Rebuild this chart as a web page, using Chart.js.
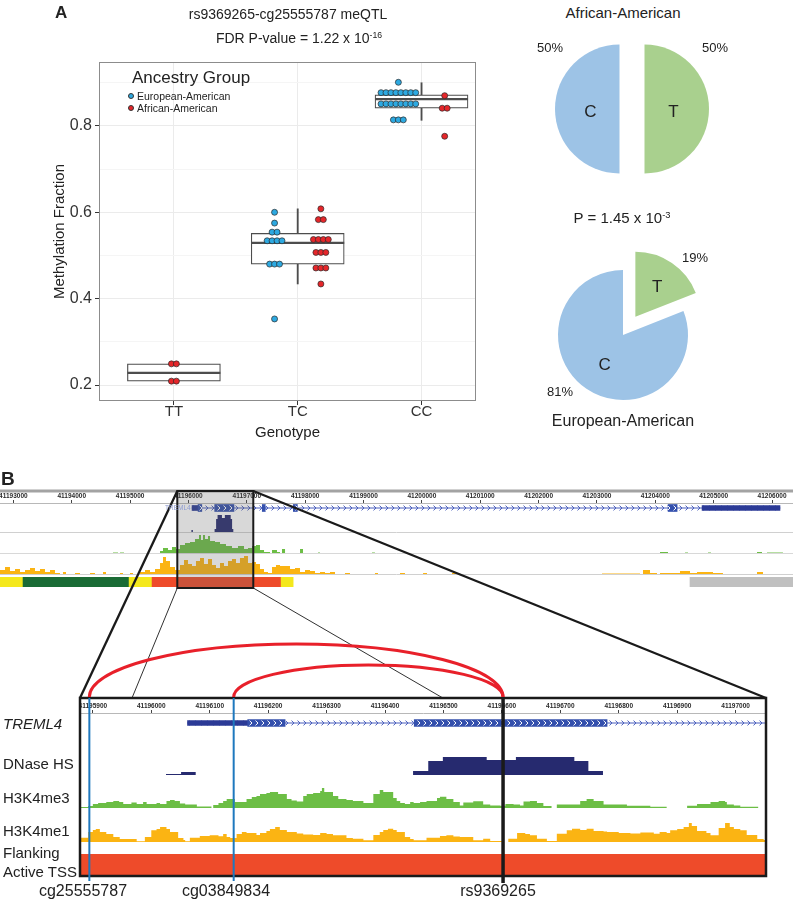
<!DOCTYPE html>
<html>
<head>
<meta charset="utf-8">
<script src="https://cdn.jsdelivr.net/npm/chart.js@4.4.1/dist/chart.umd.min.js"></script>
<style>
html, body { margin: 0; padding: 0; background: #fff; }
#fig { position: relative; width: 793px; height: 900px; overflow: hidden;
       font-family: "Liberation Sans", Arial, sans-serif; color: #222; }
#fig canvas { position: absolute; }
.t { position: absolute; white-space: nowrap; line-height: 1; }
.c { transform: translateX(-50%); }
.dot { position: absolute; width: 6px; height: 6px; border-radius: 50%; border: 0.7px solid #333; box-sizing: border-box; }
sup { font-size: 0.62em; vertical-align: 0.55em; line-height: 0; }
</style>
</head>
<body>
<div id="fig">
  <canvas id="meqtl" width="480" height="445" style="left:0;top:0"></canvas>
  <canvas id="pieAfr" width="200" height="170" style="left:532px;top:24px"></canvas>
  <canvas id="pieEur" width="240" height="240" style="left:503px;top:215px"></canvas>

  <canvas id="topRuler" width="793" height="17" style="left:0;top:488px"></canvas>
  <canvas id="topGene" width="793" height="14" style="left:0;top:501px"></canvas>
  <canvas id="topDnase" width="793" height="20" style="left:0;top:513px"></canvas>
  <canvas id="topK4me3" width="793" height="19" style="left:0;top:535px"></canvas>
  <canvas id="topK4me1" width="793" height="19" style="left:0;top:556px"></canvas>
  <canvas id="topState" width="793" height="10" style="left:0;top:577px"></canvas>

  <canvas id="zoomRuler" width="686" height="16" style="left:80px;top:699px"></canvas>
  <canvas id="zoomGene" width="686" height="14" style="left:80px;top:716px"></canvas>
  <canvas id="zoomDnase" width="686" height="20" style="left:80px;top:755px"></canvas>
  <canvas id="zoomK4me3" width="686" height="21" style="left:80px;top:787px"></canvas>
  <canvas id="zoomK4me1" width="686" height="22" style="left:80px;top:820px"></canvas>
  <canvas id="zoomState" width="686" height="21" style="left:80px;top:854px"></canvas>

  <canvas id="overlay" width="793" height="420" style="left:0;top:480px"></canvas>

  <!-- panel A text -->
  <div class="t" style="left:55px;top:4px;font-size:17px;font-weight:bold;">A</div>
  <div class="t c" style="left:288px;top:7px;font-size:14px;">rs9369265-cg25555787 meQTL</div>
  <div class="t c" style="left:299px;top:31px;font-size:14px;">FDR P-value = 1.22 x 10<sup>-16</sup></div>
  <div class="t" style="left:132px;top:69px;font-size:17px;">Ancestry Group</div>
  <div class="dot" style="left:128px;top:93px;background:#2DA9E1"></div>
  <div class="t" style="left:137px;top:91px;font-size:10.5px;">European-American</div>
  <div class="dot" style="left:128px;top:105px;background:#E5262A"></div>
  <div class="t" style="left:137px;top:103px;font-size:10.5px;">African-American</div>

  <div class="t c" style="left:623px;top:5px;font-size:15px;">African-American</div>
  <div class="t c" style="left:550px;top:41px;font-size:13px;">50%</div>
  <div class="t c" style="left:715px;top:41px;font-size:13px;">50%</div>
  <div class="t c" style="left:622px;top:210px;font-size:15px;">P = 1.45 x 10<sup>-3</sup></div>
  <div class="t c" style="left:695px;top:251px;font-size:13px;">19%</div>
  <div class="t c" style="left:560px;top:385px;font-size:13px;">81%</div>
  <div class="t c" style="left:623px;top:413px;font-size:16px;">European-American</div>

  <!-- panel B text -->
  <div class="t" style="left:1px;top:469px;font-size:19px;font-weight:bold;">B</div>
  <div class="t" style="left:165px;top:505px;font-size:6.5px;color:#8d9bd2;">TREML4</div>
  <div class="t" style="left:3px;top:716px;font-size:15px;font-style:italic;">TREML4</div>
  <div class="t" style="left:3px;top:756px;font-size:15px;">DNase HS</div>
  <div class="t" style="left:3px;top:790px;font-size:15px;">H3K4me3</div>
  <div class="t" style="left:3px;top:823px;font-size:15px;">H3K4me1</div>
  <div class="t" style="left:3px;top:845px;font-size:15px;">Flanking</div>
  <div class="t" style="left:3px;top:864px;font-size:15px;">Active TSS</div>
  <div class="t c" style="left:83px;top:883px;font-size:16px;">cg25555787</div>
  <div class="t c" style="left:226px;top:883px;font-size:16px;">cg03849834</div>
  <div class="t c" style="left:498px;top:883px;font-size:16px;">rs9369265</div>
</div>

<script>
// ---- panel A: meQTL ----
const GENOTYPES = ['TT', 'TC', 'CC'];
const WHISK_LO = [0.209, 0.434, 0.813];
const Q1 = [0.209, 0.480, 0.841];
const MEDIAN = [0.228, 0.529, 0.862];
const Q3 = [0.249, 0.551, 0.872];
const WHISK_HI = [0.249, 0.608, 0.900];

const EUR_AM = [
  [],
  [0.600, 0.575, 0.554, 0.554, 0.534, 0.534, 0.534, 0.534, 0.480, 0.480, 0.480, 0.353],
  [0.901, 0.877, 0.877, 0.877, 0.877, 0.877, 0.877, 0.877, 0.877,
   0.851, 0.851, 0.851, 0.851, 0.851, 0.851, 0.851, 0.851, 0.814, 0.814, 0.814]
];
const AFR_AM = [
  [0.249, 0.249, 0.209, 0.209],
  [0.608, 0.583, 0.583, 0.537, 0.537, 0.537, 0.537, 0.507, 0.507, 0.507, 0.471, 0.471, 0.471, 0.434],
  [0.870, 0.841, 0.841, 0.776]
];

// allele frequencies (T, C)
const ALLELES = ['T', 'C'];
const AFR_FREQ = [50, 50];
const EUR_FREQ = [19, 81];

// ---- panel B: genome browser (positions in kb, chr6) ----
const TOP_MIN = 41192.771, TOP_MAX = 41206.359;
const ZOOM_MIN = 41195.878, ZOOM_MAX = 41197.052;

const GENE_SPAN = [41196.062, 41206.136];
const GENE_UTR = [[41196.062, 41196.165], [41204.801, 41206.136]];
const GENE_EXONS = [[41196.165, 41196.229], [41196.450, 41196.780], [41197.265, 41197.317],
                    [41197.797, 41197.866], [41204.219, 41204.373]];

const DNASE = [[41196.025, 1], [41196.051, 3], [41196.076, 0], [41196.448, 4], [41196.474, 14],
  [41196.499, 18], [41196.574, 15], [41196.624, 18], [41196.724, 14], [41196.748, 4], [41196.773, 0]];

const TOP_K4ME3 = [[41192.805, 1], [41192.857, 0], [41192.908, 1], [41192.960, 0],
  [41194.707, 1.5], [41194.793, 0], [41194.827, 1.5], [41194.896, 0],
  [41195.427, 1], [41195.478, 0], [41195.513, 3], [41195.564, 6], [41195.650, 4], [41195.718, 7],
  [41195.787, 5], [41195.855, 9], [41195.941, 11], [41196.027, 12], [41196.112, 15], [41196.181, 19],
  [41196.215, 14], [41196.249, 19], [41196.284, 15], [41196.335, 18], [41196.370, 13], [41196.455, 12],
  [41196.541, 10], [41196.643, 8], [41196.746, 6], [41196.849, 8], [41196.952, 5], [41197.020, 6],
  [41197.089, 8], [41197.158, 9], [41197.226, 4], [41197.295, 2], [41197.398, 0], [41197.432, 4],
  [41197.517, 2], [41197.569, 0], [41197.603, 5], [41197.655, 1], [41197.740, 0],
  [41197.912, 5], [41197.963, 0], [41198.220, 1.5], [41198.254, 0], [41198.597, 1], [41198.682, 0],
  [41199.145, 1.5], [41199.196, 0], [41204.080, 2], [41204.217, 0], [41204.509, 1.5], [41204.560, 0],
  [41204.902, 1.5], [41204.954, 0], [41205.742, 2], [41205.828, 0], [41205.913, 1.5], [41206.187, 0]];

const TOP_K4ME1 = [[41192.771, 5], [41192.857, 8], [41192.942, 4], [41193.028, 6], [41193.114, 3],
  [41193.199, 5], [41193.285, 7], [41193.371, 4], [41193.456, 6], [41193.542, 3], [41193.628, 5],
  [41193.713, 2], [41193.799, 0], [41193.850, 3], [41193.902, 0], [41194.056, 2], [41194.142, 0],
  [41194.313, 2], [41194.399, 0], [41194.536, 3], [41194.587, 0], [41194.827, 2], [41194.879, 0],
  [41194.999, 2], [41195.050, 0], [41195.170, 3], [41195.256, 5], [41195.341, 3], [41195.427, 6],
  [41195.513, 12], [41195.564, 18], [41195.615, 14], [41195.684, 8], [41195.770, 5], [41195.855, 10],
  [41195.924, 15], [41195.992, 11], [41196.061, 9], [41196.129, 14], [41196.198, 17], [41196.266, 11],
  [41196.335, 16], [41196.404, 10], [41196.472, 7], [41196.541, 12], [41196.609, 9], [41196.678, 14],
  [41196.746, 16], [41196.815, 12], [41196.883, 17], [41196.952, 20], [41197.020, 12], [41197.089, 13],
  [41197.158, 11], [41197.226, 6], [41197.295, 3], [41197.363, 2], [41197.432, 8], [41197.500, 10],
  [41197.569, 9], [41197.655, 9], [41197.740, 6], [41197.826, 7], [41197.912, 3], [41197.997, 5],
  [41198.083, 4], [41198.169, 2], [41198.254, 3], [41198.340, 2], [41198.426, 3], [41198.511, 0],
  [41198.682, 2], [41198.768, 0], [41198.854, 1], [41198.940, 0], [41199.196, 2], [41199.248, 0],
  [41199.368, 1], [41199.420, 0], [41199.625, 2], [41199.711, 0], [41200.020, 2], [41200.088, 0],
  [41200.516, 2], [41200.602, 0], [41200.773, 1], [41200.824, 0], [41201.253, 1], [41201.304, 0],
  [41202.247, 1], [41202.418, 0], [41202.504, 1], [41202.589, 0], [41202.658, 1], [41202.761, 0],
  [41203.086, 1.5], [41203.738, 0], [41203.789, 5], [41203.909, 2], [41204.029, 0], [41204.080, 2],
  [41204.423, 4], [41204.594, 2], [41204.714, 3], [41204.988, 2], [41205.159, 0], [41205.228, 1],
  [41205.280, 0], [41205.502, 1], [41205.622, 0], [41205.742, 3], [41205.845, 1], [41206.187, 0]];

const ZOOM_K4ME3 = [[41195.878, 1], [41195.892, 2], [41195.900, 4], [41195.909, 5], [41195.923, 6],
  [41195.935, 7], [41195.945, 6], [41195.952, 4], [41195.966, 5.5], [41195.975, 4], [41195.986, 6],
  [41195.992, 4], [41196.009, 5], [41196.015, 4], [41196.026, 7], [41196.032, 8], [41196.040, 7],
  [41196.049, 4.5], [41196.058, 3.5], [41196.078, 1.5], [41196.103, 0], [41196.106, 3], [41196.115, 5],
  [41196.123, 7], [41196.129, 9], [41196.143, 6], [41196.163, 9], [41196.172, 11], [41196.180, 12],
  [41196.186, 14], [41196.197, 15], [41196.203, 16], [41196.217, 14], [41196.232, 9], [41196.240, 7.5],
  [41196.249, 6.5], [41196.260, 12], [41196.266, 14], [41196.277, 15], [41196.289, 17], [41196.292, 20],
  [41196.296, 16], [41196.311, 12], [41196.320, 9], [41196.334, 8], [41196.345, 7], [41196.363, 5],
  [41196.380, 14], [41196.391, 18], [41196.397, 16], [41196.414, 10], [41196.420, 7], [41196.426, 5],
  [41196.434, 4], [41196.443, 6], [41196.449, 5], [41196.460, 6], [41196.471, 7], [41196.489, 10],
  [41196.494, 11.3], [41196.505, 9], [41196.517, 6], [41196.528, 2.5], [41196.534, 5.5], [41196.551, 6.7],
  [41196.568, 3.5], [41196.580, 2.5], [41196.597, 2.3], [41196.606, 4], [41196.620, 3.5], [41196.631, 2.5],
  [41196.637, 6.5], [41196.648, 7], [41196.660, 5], [41196.671, 2], [41196.685, 0], [41196.694, 3.5],
  [41196.734, 7], [41196.745, 9], [41196.757, 7], [41196.774, 3.5], [41196.814, 2.3], [41196.854, 1.3],
  [41196.882, 0], [41196.917, 2.3], [41196.934, 4], [41196.957, 6], [41196.971, 7], [41196.982, 6],
  [41196.985, 3.5], [41196.997, 2.5], [41197.008, 1.3], [41197.039, 0]];

const ZOOM_K4ME1 = [[41195.878, 4.3], [41195.892, 10], [41195.900, 12], [41195.905, 13], [41195.912, 10],
  [41195.923, 8], [41195.935, 5], [41195.946, 3], [41195.975, 0.7], [41195.989, 5], [41196.000, 11.7],
  [41196.009, 13], [41196.015, 15], [41196.026, 13], [41196.032, 10], [41196.046, 4], [41196.055, 2],
  [41196.058, 0.7], [41196.066, 4.3], [41196.083, 6], [41196.100, 6.7], [41196.115, 5.7], [41196.123, 8],
  [41196.129, 5], [41196.135, 4], [41196.146, 8], [41196.155, 10], [41196.163, 9], [41196.180, 7],
  [41196.186, 9], [41196.197, 11], [41196.203, 13], [41196.212, 15], [41196.220, 12], [41196.232, 10],
  [41196.249, 8.5], [41196.260, 7.5], [41196.277, 7], [41196.289, 9], [41196.300, 8], [41196.311, 6.7],
  [41196.334, 4], [41196.345, 3.3], [41196.363, 1.7], [41196.380, 7], [41196.391, 10], [41196.397, 12],
  [41196.405, 13.3], [41196.414, 12], [41196.420, 10], [41196.434, 5], [41196.443, 3], [41196.449, 1.7],
  [41196.471, 4.3], [41196.494, 6], [41196.505, 6.7], [41196.517, 5.5], [41196.528, 5], [41196.551, 1.7],
  [41196.568, 3.3], [41196.580, 1], [41196.600, 0], [41196.611, 3.3], [41196.626, 9], [41196.640, 8],
  [41196.648, 6.7], [41196.660, 3.3], [41196.677, 1], [41196.694, 8.3], [41196.711, 11.7], [41196.720, 13.3],
  [41196.734, 12], [41196.745, 13.3], [41196.757, 11], [41196.774, 10.5], [41196.780, 10], [41196.800, 9],
  [41196.820, 8.5], [41196.837, 9.5], [41196.860, 8.3], [41196.870, 10], [41196.882, 9], [41196.888, 11.7],
  [41196.900, 13], [41196.911, 15], [41196.920, 19], [41196.925, 16], [41196.934, 11], [41196.950, 9],
  [41196.957, 6.7], [41196.971, 14], [41196.982, 19], [41196.990, 15], [41196.997, 13], [41197.008, 11.7],
  [41197.019, 7], [41197.037, 3], [41197.048, 2], [41197.052, 0]];

const STATE_SEGS = [[41192.771, 41193.166], [41193.166, 41194.983], [41194.983, 41195.377],
                    [41195.377, 41197.588], [41197.588, 41197.794], [41204.594, 41206.359]];
const STATE_NAMES = ['EnhWk', 'TxWk', 'EnhWk', 'TssAFlnk', 'EnhWk', 'ReprPCWk'];
const STATE_COLORS = { EnhWk: '#F4E81C', TxWk: '#1A6B35', TssAFlnk: '#EE4B2A', ReprPCWk: '#C0C0C0' };

const CPG_SITES = [['cg25555787', 41195.894], ['cg03849834', 41196.141]];
const SNP_SITE = ['rs9369265', 41196.602];

// annotation layout (page pixels)
const HIGHLIGHT = [41195.809, 41197.111];
const GUIDE = [41195.967, 41196.499];
const HL_TOP = 491, HL_BOTTOM = 588, FRAME_TOP = 698, FRAME_BOTTOM = 876, ARC_BASE = 697;
const ARC_TOPS = [644, 665];
const ZOOM_LEFT = 80, ZOOM_WIDTH = 686, OV_TOP = 480;

Chart.defaults.font.family = '"Liberation Sans", Arial, sans-serif';
Chart.defaults.color = '#333';
Chart.defaults.animation = false;
Chart.defaults.responsive = false;
Chart.defaults.events = [];
Chart.defaults.plugins.legend.display = false;
Chart.defaults.plugins.tooltip.enabled = false;

const BLUE_DOT = '#2DA9E1', RED_DOT = '#E5262A';
const BOX_LINE = '#4d4d4d';

function swarm(groups, side) {
  const pts = [];
  groups.forEach((vals, g) => {
    const both = EUR_AM[g].length && AFR_AM[g].length;
    const cx = g + 1 + (both ? side * 0.187 : 0);
    const rows = {};
    vals.forEach(v => (rows[v] = rows[v] || []).push(v));
    Object.values(rows).forEach(row => row.forEach((v, i) => {
      pts.push({ x: cx + (i - (row.length - 1) / 2) * 0.04, y: v });
    }));
  });
  return pts;
}

const panelBorder = {
  id: 'panelBorder',
  beforeDatasetsDraw(chart) {
    const { ctx, chartArea: a } = chart;
    ctx.save();
    ctx.strokeStyle = '#8c8c8c';
    ctx.lineWidth = 1;
    ctx.strokeRect(a.left + 0.5, a.top + 0.5, a.width - 1, a.height - 1);
    ctx.restore();
  }
};

new Chart(document.getElementById('meqtl'), {
  type: 'scatter',
  data: {
    datasets: [
      { type: 'bar', order: 4, grouped: false, barThickness: 1.2, backgroundColor: BOX_LINE,
        borderWidth: 0, data: GENOTYPES.map((g, i) => ({ x: i + 1, y: [WHISK_LO[i], WHISK_HI[i]] })) },
      { type: 'bar', order: 3, grouped: false, barThickness: 93, backgroundColor: '#fff',
        borderColor: BOX_LINE, borderWidth: 1.2, borderSkipped: false,
        data: GENOTYPES.map((g, i) => ({ x: i + 1, y: [Q1[i], Q3[i]] })) },
      { order: 2, pointStyle: 'line', pointRadius: 46.5, pointBorderWidth: 2.2, pointBorderColor: BOX_LINE,
        data: GENOTYPES.map((g, i) => ({ x: i + 1, y: MEDIAN[i] })) },
      { order: 1, label: 'European-American', pointRadius: 3, pointBorderWidth: 0.7, pointBorderColor: '#2a2a2a',
        pointBackgroundColor: BLUE_DOT, data: swarm(EUR_AM, -1) },
      { order: 1, label: 'African-American', pointRadius: 3, pointBorderWidth: 0.7, pointBorderColor: '#2a2a2a',
        pointBackgroundColor: RED_DOT, data: swarm(AFR_AM, 1) }
    ]
  },
  options: {
    layout: { padding: { top: 62, right: 4, left: 0, bottom: 0 }, autoPadding: false },
    scales: {
      x: {
        type: 'linear', min: 0.395, max: 3.44, offset: false,
        grid: { offset: false, color: '#EBEBEB', tickLength: 4, tickColor: '#333' },
        border: { display: false },
        afterBuildTicks: s => { s.ticks = GENOTYPES.map((g, i) => ({ value: i + 1 })); },
        afterFit: s => { s.height = 44; s.paddingLeft = 0; s.paddingRight = 0; },
        ticks: { callback: v => GENOTYPES[Math.round(v) - 1], font: { size: 15 }, color: '#333', padding: -2,
                 maxRotation: 0, autoSkip: false },
        title: { display: true, text: 'Genotype', font: { size: 15 }, color: '#222', padding: { top: 0, bottom: 3 } }
      },
      y: {
        min: 0.163, max: 0.948,
        grid: {
          color: c => (Math.round(c.tick.value * 10) % 2 === 0 ? '#EBEBEB' : '#F5F5F5'),
          tickColor: c => (Math.round(c.tick.value * 10) % 2 === 0 ? '#333' : 'rgba(0,0,0,0)'),
          tickLength: 4
        },
        border: { display: false },
        afterFit: s => { s.width = 99; s.paddingTop = 0; s.paddingBottom = 0; },
        ticks: { stepSize: 0.1, includeBounds: false, font: { size: 16 }, color: '#333', padding: 3,
                 callback: v => (Math.round(v * 10) % 2 === 0 ? v.toFixed(1) : '') },
        title: { display: true, text: 'Methylation Fraction', font: { size: 15 }, color: '#222',
                 padding: { top: 51, bottom: 0 } }
      }
    }
  },
  plugins: [panelBorder]
});

// ---- pies ----
const ALLELE_COLORS = ['#A9D08E', '#9DC3E6'];
const explode = {
  id: 'explode',
  afterDatasetsUpdate(chart, args, opts) {
    chart.getDatasetMeta(0).data.forEach((arc, i) => {
      const d = opts.dist[i] || 0;
      const mid = (arc.startAngle + arc.endAngle) / 2;
      arc.x += Math.cos(mid) * d;
      arc.y += Math.sin(mid) * d;
    });
  }
};
const sliceLetters = {
  id: 'sliceLetters',
  afterDatasetsDraw(chart, args, opts) {
    const ctx = chart.ctx;
    ctx.save();
    ctx.font = '17px "Liberation Sans", Arial, sans-serif';
    ctx.fillStyle = '#222';
    ctx.textAlign = 'center';
    ctx.textBaseline = 'middle';
    chart.getDatasetMeta(0).data.forEach((arc, i) => {
      const mid = (arc.startAngle + arc.endAngle) / 2;
      const r = arc.outerRadius * opts.frac[i];
      ctx.fillText(chart.data.labels[i], arc.x + Math.cos(mid) * r, arc.y + Math.sin(mid) * r + 3);
    });
    ctx.restore();
  }
};
function pie(id, freq, radius, dist, frac) {
  return new Chart(document.getElementById(id), {
    type: 'pie',
    data: { labels: ALLELES, datasets: [{ data: freq, backgroundColor: ALLELE_COLORS, borderWidth: 0, radius: radius }] },
    options: { layout: { padding: 0 }, plugins: { explode: { dist }, sliceLetters: { frac } } },
    plugins: [explode, sliceLetters]
  });
}
pie('pieAfr', AFR_FREQ, 64.5, [12.5, 12.5], [0.45, 0.45]);
pie('pieEur', EUR_FREQ, 65, [22, 0], [0.6, 0.5]);

// ---- browser tracks ----
const baseLine = {
  id: 'baseLine',
  afterDraw(chart, args, opts) {
    const { ctx, chartArea: a } = chart;
    ctx.save();
    ctx.strokeStyle = opts.color || '#d6d6d6';
    ctx.lineWidth = 1;
    ctx.beginPath();
    ctx.moveTo(a.left, a.bottom - 0.5);
    ctx.lineTo(a.right, a.bottom - 0.5);
    ctx.stroke();
    ctx.restore();
  }
};
const rulerTop = {
  id: 'rulerTop',
  afterDraw(chart, args, opts) {
    if (!opts.color) return;
    const ctx = chart.ctx;
    ctx.save();
    ctx.strokeStyle = opts.color;
    ctx.lineWidth = 3;
    ctx.beginPath();
    ctx.moveTo(0, 3);
    ctx.lineTo(chart.width, 3);
    ctx.stroke();
    ctx.restore();
  }
};

function hiddenScales(xmin, xmax, ymin, ymax) {
  return {
    x: { type: 'linear', display: false, min: xmin, max: xmax, offset: false },
    y: { type: 'linear', display: false, min: ymin, max: ymax, offset: false }
  };
}
function signalChart(id, segs, color, xmin, xmax, ymax, sep) {
  return new Chart(document.getElementById(id), {
    type: 'line',
    data: { datasets: [{ data: segs.map(s => ({ x: s[0], y: s[1] })), stepped: true, fill: 'origin',
      backgroundColor: color, borderColor: 'rgba(0,0,0,0)', borderWidth: 0, pointRadius: 0 }] },
    options: { layout: { padding: 0, autoPadding: false }, scales: hiddenScales(xmin, xmax, 0, ymax),
               plugins: { baseLine: { color: sep } } },
    plugins: sep ? [baseLine] : []
  });
}
function rulerChart(id, xmin, xmax, step, padTop, axisH, topColor) {
  return new Chart(document.getElementById(id), {
    type: 'scatter',
    data: { datasets: [] },
    options: {
      layout: { padding: { top: padTop, left: 0, right: 0, bottom: 0 }, autoPadding: false },
      scales: {
        x: { type: 'linear', position: 'top', min: xmin, max: xmax,
             grid: { drawOnChartArea: false, tickLength: 3, tickColor: '#444' },
             border: { color: '#b8b8b8' },
             afterFit: s => { s.height = axisH; s.paddingLeft = 0; s.paddingRight = 0; },
             ticks: { stepSize: step, includeBounds: false, autoSkip: false, maxRotation: 0, padding: 0,
                      font: { size: 6.5, weight: 'bold' }, color: '#2a2a2a',
                      callback: v => String(Math.round(v * 1000)) } },
        y: { display: false, min: 0, max: 1 }
      },
      plugins: { rulerTop: { color: topColor } }
    },
    plugins: [rulerTop]
  });
}
function chevronPattern(bg, fg, line) {
  const c = document.createElement('canvas');
  c.width = 6; c.height = 14;
  const g = c.getContext('2d');
  if (bg) { g.fillStyle = bg; g.fillRect(0, 0, 6, 14); }
  g.strokeStyle = fg;
  g.lineWidth = 1;
  if (line) { g.beginPath(); g.moveTo(0, 7); g.lineTo(6, 7); g.stroke(); }
  g.beginPath(); g.moveTo(1.5, 4.6); g.lineTo(4, 7); g.lineTo(1.5, 9.4); g.stroke();
  return g.createPattern(c, 'repeat');
}
function geneChart(id, xmin, xmax) {
  const intron = chevronPattern(null, '#4a5fbd', true);
  const exon = chevronPattern('#3450ad', '#ffffff', false);
  return new Chart(document.getElementById(id), {
    type: 'bar',
    data: { datasets: [
      { order: 3, barThickness: 7, backgroundColor: intron, data: [{ x: GENE_SPAN, y: 0 }] },
      { order: 2, barThickness: 5, backgroundColor: '#2B3A96', data: GENE_UTR.map(s => ({ x: s, y: 0 })) },
      { order: 1, barThickness: 7, backgroundColor: exon, data: GENE_EXONS.map(s => ({ x: s, y: 0 })) }
    ] },
    options: { indexAxis: 'y', layout: { padding: 0, autoPadding: false },
               datasets: { bar: { grouped: false, borderWidth: 0, borderSkipped: false } },
               scales: hiddenScales(xmin, xmax, -1, 1) }
  });
}
function stateChart(id, xmin, xmax, thickness) {
  return new Chart(document.getElementById(id), {
    type: 'bar',
    data: { datasets: [{ barThickness: thickness, data: STATE_SEGS.map(s => ({ x: s, y: 0 })),
      backgroundColor: STATE_NAMES.map(n => STATE_COLORS[n]) }] },
    options: { indexAxis: 'y', layout: { padding: 0, autoPadding: false },
               datasets: { bar: { grouped: false, borderWidth: 0, borderSkipped: false } },
               scales: hiddenScales(xmin, xmax, -1, 1) }
  });
}

const DNASE_COLOR = '#262A6F', K4ME3_COLOR = '#6CBE45', K4ME1_COLOR = '#FBB413';

rulerChart('topRuler', TOP_MIN, TOP_MAX, 1, 4, 11, '#a3a3a3');
geneChart('topGene', TOP_MIN, TOP_MAX);
signalChart('topDnase', DNASE, DNASE_COLOR, TOP_MIN, TOP_MAX, 20, '#d0d0d0');
signalChart('topK4me3', TOP_K4ME3, K4ME3_COLOR, TOP_MIN, TOP_MAX, 19, '#d8d8d8');
signalChart('topK4me1', TOP_K4ME1, K4ME1_COLOR, TOP_MIN, TOP_MAX, 19, '#d0d0d0');
stateChart('topState', TOP_MIN, TOP_MAX, 10);

rulerChart('zoomRuler', ZOOM_MIN, ZOOM_MAX, 0.1, 2, 12, null);
geneChart('zoomGene', ZOOM_MIN, ZOOM_MAX);
signalChart('zoomDnase', DNASE, DNASE_COLOR, ZOOM_MIN, ZOOM_MAX, 20, null);
signalChart('zoomK4me3', ZOOM_K4ME3, K4ME3_COLOR, ZOOM_MIN, ZOOM_MAX, 21, null);
signalChart('zoomK4me1', ZOOM_K4ME1, K4ME1_COLOR, ZOOM_MIN, ZOOM_MAX, 22, null);
stateChart('zoomState', ZOOM_MIN, ZOOM_MAX, 21);

// ---- overlay: highlight, connectors, zoom frame, loci and arcs ----
const kbPerPx = (ZOOM_MAX - ZOOM_MIN) / ZOOM_WIDTH;
const annot = {
  id: 'annot',
  afterDraw(chart) {
    const { ctx, scales: { x, xt, y } } = chart;
    const line = (x0, y0, x1, y1, w, col) => {
      ctx.strokeStyle = col || '#1a1a1a';
      ctx.lineWidth = w;
      ctx.beginPath();
      ctx.moveTo(x0, y.getPixelForValue(y0));
      ctx.lineTo(x1, y.getPixelForValue(y1));
      ctx.stroke();
    };
    ctx.save();
    const hx0 = xt.getPixelForValue(HIGHLIGHT[0]), hx1 = xt.getPixelForValue(HIGHLIGHT[1]);
    const hy0 = y.getPixelForValue(HL_TOP), hy1 = y.getPixelForValue(HL_BOTTOM);
    ctx.fillStyle = 'rgba(105,105,105,0.26)';
    ctx.fillRect(hx0, hy0, hx1 - hx0, hy1 - hy0);
    ctx.strokeStyle = '#1a1a1a';
    ctx.lineWidth = 2;
    ctx.strokeRect(hx0, hy0, hx1 - hx0, hy1 - hy0);

    const zx0 = x.getPixelForValue(ZOOM_MIN), zx1 = x.getPixelForValue(ZOOM_MAX);
    line(hx0, HL_TOP, zx0, FRAME_TOP, 2.3);
    line(hx1, HL_TOP, zx1, FRAME_TOP, 2.3);
    line(hx0, HL_BOTTOM, x.getPixelForValue(GUIDE[0]), FRAME_TOP, 0.9);
    line(hx1, HL_BOTTOM, x.getPixelForValue(GUIDE[1]), FRAME_TOP, 0.9);

    const fy0 = y.getPixelForValue(FRAME_TOP), fy1 = y.getPixelForValue(FRAME_BOTTOM);
    ctx.strokeStyle = '#1a1a1a';
    ctx.lineWidth = 2.5;
    ctx.strokeRect(zx0, fy0, zx1 - zx0, fy1 - fy0);

    CPG_SITES.forEach(s => {
      const px = x.getPixelForValue(s[1]);
      line(px, FRAME_TOP, px, 881, 2, '#1E78BE');
    });
    const sx = x.getPixelForValue(SNP_SITE[1]);
    line(sx, FRAME_TOP - 1, sx, 883, 3.5, '#1a1a1a');

    ctx.strokeStyle = '#E8202A';
    ctx.lineWidth = 3;
    CPG_SITES.forEach((s, i) => {
      const a = x.getPixelForValue(s[1]);
      const base = y.getPixelForValue(ARC_BASE);
      ctx.beginPath();
      ctx.ellipse((a + sx) / 2, base, (sx - a) / 2, base - y.getPixelForValue(ARC_TOPS[i]), 0, Math.PI, 2 * Math.PI);
      ctx.stroke();
    });
    ctx.restore();
  }
};
new Chart(document.getElementById('overlay'), {
  type: 'scatter',
  data: { datasets: [] },
  options: {
    layout: { padding: 0, autoPadding: false },
    scales: {
      x: { type: 'linear', display: false, min: ZOOM_MIN - ZOOM_LEFT * kbPerPx,
           max: ZOOM_MAX + (793 - ZOOM_LEFT - ZOOM_WIDTH) * kbPerPx },
      xt: { type: 'linear', axis: 'x', display: false, min: TOP_MIN, max: TOP_MAX },
      y: { type: 'linear', display: false, min: OV_TOP, max: OV_TOP + 420, reverse: true }
    }
  },
  plugins: [annot]
});
</script>
</body>
</html>
